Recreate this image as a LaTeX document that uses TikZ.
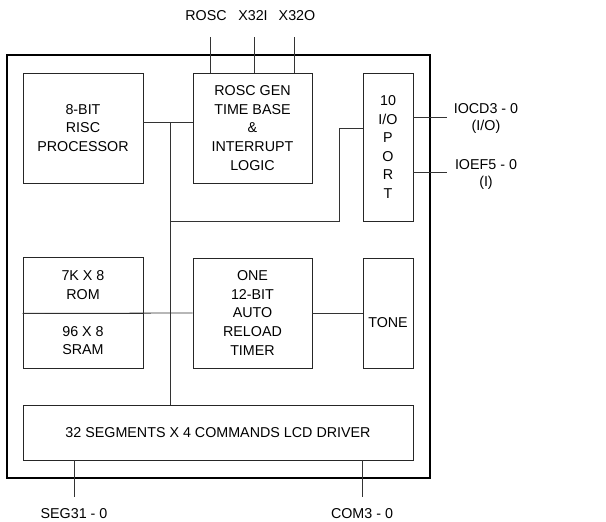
\documentclass[tikz,border=0pt]{standalone}
\usepackage{fontspec}
\setmainfont{Liberation Sans}
\begin{document}
\begin{tikzpicture}[x=1pt,y=-1pt,
  every node/.style={font=\fontsize{14.3}{18.6}\selectfont, align=center, inner sep=0pt},
  blk/.style={draw=black!85, line width=0.8pt, rectangle},
  wire/.style={draw=black!80, line width=0.8pt},
  lbl/.style={text=black}]
\useasboundingbox (0,0) rectangle (606,522);
% outer chip
\node[draw=black, line width=1.5pt, minimum width=423pt, minimum height=423pt] (chip) at (218.5,266.5) {};
% blocks
\node[blk, minimum width=120pt, minimum height=110pt] (risc) at (83,128) {8-BIT\\RISC\\PROCESSOR};
\node[blk, minimum width=119pt, minimum height=110pt] (rosc) at (252.5,128) {ROSC GEN\\TIME BASE\\\&\\INTERRUPT\\LOGIC};
\node[blk, minimum width=50pt, minimum height=148pt] (io) at (388,147) {10\\I/O\\P\\O\\R\\T};
\node[blk, minimum width=120pt, minimum height=56pt] (rom) at (83,285) {7K X 8\\ROM};
\node[blk, minimum width=120pt, minimum height=55pt] (sram) at (83,340.5) {96 X 8\\SRAM};
\node[blk, minimum width=119pt, minimum height=110pt] (timer) at (252.5,313) {ONE\\12-BIT\\AUTO\\RELOAD\\TIMER};
\node[blk, minimum width=50pt, minimum height=110pt, text height=28pt, text depth=0pt] (tone) at (388,313) {TONE};
\node[blk, minimum width=390pt, minimum height=55pt] (lcd) at (218,432.5) {32 SEGMENTS X 4 COMMANDS LCD DRIVER};
% top pins
\node[lbl] (lrosc) at (206,16) {ROSC};
\node[lbl] (lx32i) at (253,16) {X32I};
\node[lbl] (lx32o) at (297,16) {X32O};
\coordinate (p1) at (210,37);
\coordinate (p2) at (254,37);
\coordinate (p3) at (294,37);
\draw[wire] (p1) -- (p1 |- rosc.north);
\draw[wire] (p2) -- (p2 |- rosc.north);
\draw[wire] (p3) -- (p3 |- rosc.north);
% bus
\coordinate (bustop) at (170,122);
\coordinate (busA) at (170,221);
\draw[wire] ([yshift=6pt]risc.east) -- ([yshift=6pt]rosc.west);
\draw[wire] (bustop) -- (bustop |- lcd.north);
\draw[wire] (busA) -- (339,221) |- ([yshift=19pt]io.west);
\draw[wire] (rom.south west) -- (timer.west);
\draw[wire] (timer.east) -- (tone.west);
% io pins
\coordinate (o1) at (447,117);
\coordinate (o2) at (447,172);
\draw[wire] (io.east |- o1) -- (o1);
\draw[wire] (io.east |- o2) -- (o2);
\node[lbl, font=\fontsize{14.3}{17}\selectfont] (liocd) at (486,118.5) {IOCD3 - 0\\(I/O)};
\node[lbl, font=\fontsize{14.3}{17}\selectfont] (lioef) at (486,174) {IOEF5 - 0\\(I)};
% bottom pins
\coordinate (b1) at (74,497);
\coordinate (b2) at (362,497);
\draw[wire] (b1 |- lcd.south) -- (b1);
\draw[wire] (b2 |- lcd.south) -- (b2);
\node[lbl] (lseg) at (74,514) {SEG31 - 0};
\node[lbl] (lcom) at (362,514) {COM3 - 0};
\end{tikzpicture}
\end{document}
